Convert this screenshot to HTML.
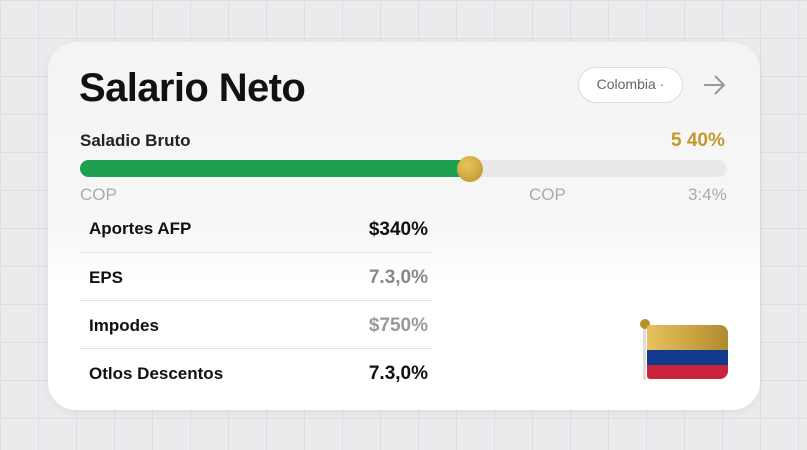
<!DOCTYPE html>
<html><head><style>
*{margin:0;padding:0;box-sizing:border-box}
body{width:807px;height:450px;overflow:hidden;position:relative;font-family:"Liberation Sans",Arial,sans-serif;
background-color:#ebebee;
background-image:linear-gradient(#dedee2 1px,transparent 1px),linear-gradient(90deg,#dedee2 1px,transparent 1px);
background-size:38px 38px;}
.card{position:absolute;left:48px;top:42px;width:712px;height:368px;border-radius:28px;background:linear-gradient(180deg,#f4f4f4 0%,#f7f7f7 50%,#fff 65%,#fff 100%);box-shadow:0 2px 8px rgba(0,0,0,.06)}
.a{position:absolute;white-space:nowrap}
.title{left:79px;top:66px;font-size:40px;font-weight:bold;color:#111;letter-spacing:-0.6px}
.pill{left:578px;top:67px;width:105px;height:36px;border:1.5px solid #ddd;border-radius:18px;background:#fff;font-size:14px;color:#666;text-align:center;line-height:33px}
.row{font-size:17px;font-weight:bold;color:#111}
.val{font-size:19px;font-weight:bold;text-align:right;width:120px}
.div{position:absolute;left:80px;width:352px;height:1px;background:#e4e4e4}
</style></head><body>
<div class="card"></div>
<div class="a title">Salario Neto</div>
<div class="a pill">Colombia ·</div>
<svg class="a" style="left:700px;top:73px" width="28" height="24"><path d="M4 12H24M15 3L24 12L15 21" stroke="#999" stroke-width="2" fill="none"/></svg>
<div class="a" style="left:80px;top:131px;font-size:17px;font-weight:bold;color:#222">Saladio Bruto</div>
<div class="a" style="left:671px;top:130px;font-size:19px;font-weight:bold;color:#c29a2a">5 40%</div>
<div class="a" style="left:80px;top:160px;width:647px;height:17px;border-radius:9px;background:#e9e9e9"></div>
<div class="a" style="left:80px;top:160px;width:392px;height:17px;border-radius:9px;background:#1fa050"></div>
<div class="a" style="left:457px;top:156px;width:26px;height:26px;border-radius:50%;background:radial-gradient(circle at 40% 35%,#e8c65a,#b8902a)"></div>
<div class="a" style="left:80px;top:185px;font-size:17px;color:#aaa">COP</div>
<div class="a" style="left:529px;top:185px;font-size:17px;color:#aaa">COP</div>
<div class="a" style="left:688px;top:185px;font-size:17px;color:#aaa">3:4%</div>
<div class="a row" style="left:89px;top:219px">Aportes AFP</div>
<div class="a val" style="left:308px;top:219px;color:#111">$340%</div>
<div class="div" style="top:252px"></div>
<div class="a row" style="left:89px;top:268px">EPS</div>
<div class="a val" style="left:308px;top:267px;color:#888">7.3,0%</div>
<div class="div" style="top:300px"></div>
<div class="a row" style="left:89px;top:316px">Impodes</div>
<div class="a val" style="left:308px;top:315px;color:#999">$750%</div>
<div class="div" style="top:348px"></div>
<div class="a row" style="left:89px;top:364px">Otlos Descentos</div>
<div class="a val" style="left:308px;top:363px;color:#111">7.3,0%</div>
<div class="a" style="left:643px;top:324px;width:3px;height:56px;background:#ddd"></div>
<div class="a" style="left:640px;top:319px;width:10px;height:10px;border-radius:50%;background:#b8902a"></div>
<div class="a" style="left:647px;top:325px;width:81px;height:54px;border-radius:3px 8px 8px 3px;overflow:hidden">
<div style="height:25px;background:linear-gradient(90deg,#e6c260,#c9a040 60%,#b08a30)"></div>
<div style="height:15px;background:#123a8c"></div>
<div style="height:14px;background:#c9243c"></div>
</div>
</body></html>
